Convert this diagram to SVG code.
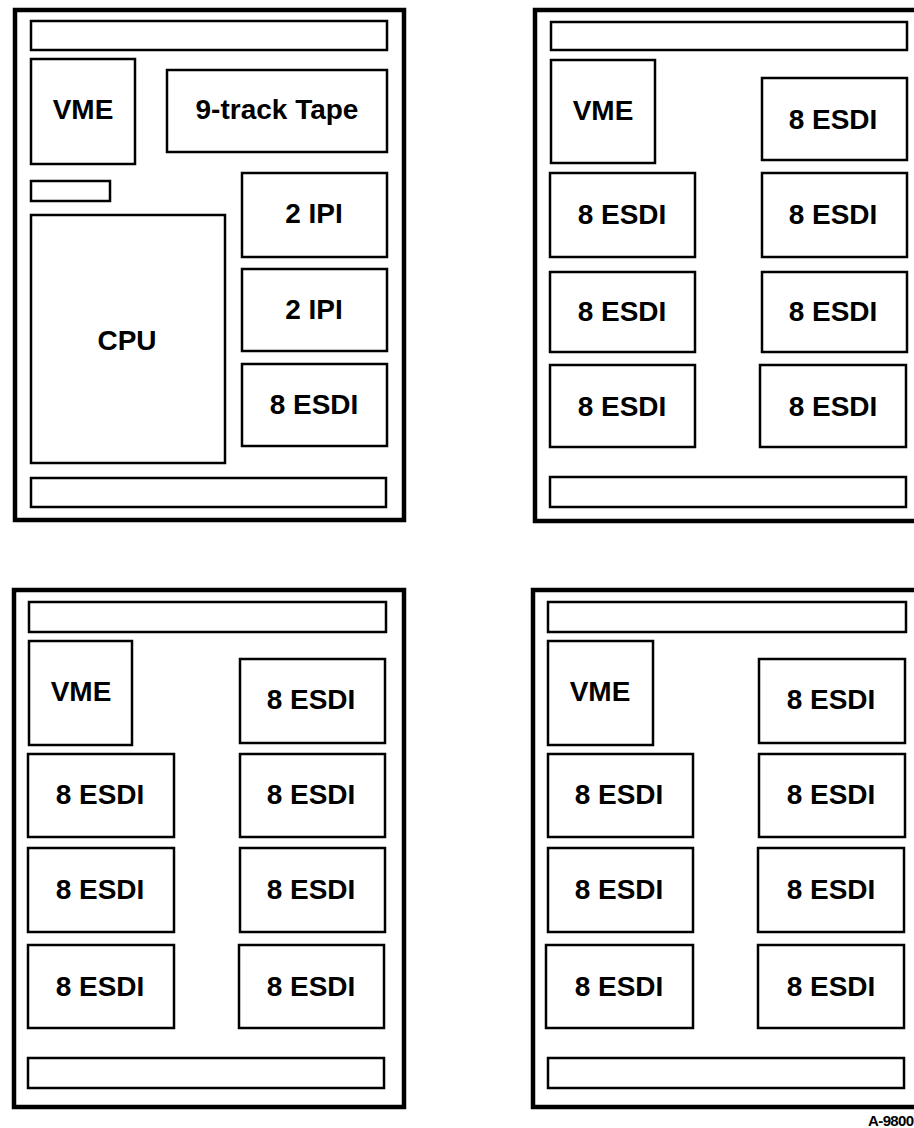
<svg xmlns="http://www.w3.org/2000/svg" width="914" height="1128" viewBox="0 0 914 1128">
<style>
.outer{fill:none;stroke:#000;stroke-width:4.5}
.box{fill:#fff;stroke:#000;stroke-width:2.5}
.lbl{font-family:"Liberation Sans",Arial,sans-serif;font-weight:bold;font-size:28px;fill:#000;text-anchor:middle}
.tag{font-family:"Liberation Sans",Arial,sans-serif;font-weight:bold;font-size:15px;letter-spacing:-0.6px;fill:#000}
</style>
<rect width="914" height="1128" fill="#fff"/>
<g id="connectors"></g>

<!-- Top-left chassis -->
<g id="chassis-tl">
<rect class="outer" x="15" y="10" width="389" height="510"/>
<rect class="box" x="31" y="21" width="356" height="29"/>
<rect class="box" x="31" y="181" width="79" height="20"/>
<rect class="box" x="31" y="478" width="355" height="29"/>
</g>
<g id="tl-vme"><rect class="box" x="31" y="59" width="104" height="105"/><text class="lbl" x="83" y="119">VME</text></g>
<g id="tl-tape"><rect class="box" x="167" y="70" width="220" height="82"/><text class="lbl" x="277" y="119">9-track Tape</text></g>
<g id="tl-cpu"><rect class="box" x="31" y="215" width="194" height="248"/><text class="lbl" x="127" y="350">CPU</text></g>
<g id="tl-ipi1"><rect class="box" x="242" y="173" width="145" height="84"/><text class="lbl" x="314" y="223">2 IPI</text></g>
<g id="tl-ipi2"><rect class="box" x="242" y="269" width="145" height="82"/><text class="lbl" x="314" y="319">2 IPI</text></g>
<g id="tl-esdi"><rect class="box" x="242" y="364" width="145" height="82"/><text class="lbl" x="314" y="414">8 ESDI</text></g>

<!-- Top-right chassis -->
<g id="chassis-tr">
<rect class="outer" x="535" y="10" width="390" height="511"/>
<rect class="box" x="551" y="22" width="356" height="28"/>
<rect class="box" x="550" y="477" width="356" height="30"/>
</g>
<g id="tr-vme"><rect class="box" x="551" y="60" width="104" height="103"/><text class="lbl" x="603" y="120">VME</text></g>
<g id="tr-e1"><rect class="box" x="762" y="78" width="145" height="82"/><text class="lbl" x="833" y="129">8 ESDI</text></g>
<g id="tr-e2"><rect class="box" x="550" y="173" width="145" height="84"/><text class="lbl" x="622" y="224">8 ESDI</text></g>
<g id="tr-e3"><rect class="box" x="762" y="173" width="145" height="84"/><text class="lbl" x="833" y="224">8 ESDI</text></g>
<g id="tr-e4"><rect class="box" x="550" y="272" width="145" height="80"/><text class="lbl" x="622" y="321">8 ESDI</text></g>
<g id="tr-e5"><rect class="box" x="762" y="272" width="145" height="80"/><text class="lbl" x="833" y="321">8 ESDI</text></g>
<g id="tr-e6"><rect class="box" x="550" y="365" width="145" height="82"/><text class="lbl" x="622" y="416">8 ESDI</text></g>
<g id="tr-e7"><rect class="box" x="760" y="365" width="146" height="82"/><text class="lbl" x="833" y="416">8 ESDI</text></g>

<!-- Bottom-left chassis -->
<g id="chassis-bl">
<rect class="outer" x="14" y="590" width="390" height="517"/>
<rect class="box" x="29" y="602" width="357" height="30"/>
<rect class="box" x="28" y="1058" width="356" height="30"/>
</g>
<g id="bl-vme"><rect class="box" x="29" y="641" width="103" height="104"/><text class="lbl" x="81" y="701">VME</text></g>
<g id="bl-e1"><rect class="box" x="240" y="659" width="145" height="84"/><text class="lbl" x="311" y="709">8 ESDI</text></g>
<g id="bl-e2"><rect class="box" x="28" y="754" width="146" height="83"/><text class="lbl" x="100" y="804">8 ESDI</text></g>
<g id="bl-e3"><rect class="box" x="240" y="754" width="145" height="83"/><text class="lbl" x="311" y="804">8 ESDI</text></g>
<g id="bl-e4"><rect class="box" x="28" y="848" width="146" height="84"/><text class="lbl" x="100" y="899">8 ESDI</text></g>
<g id="bl-e5"><rect class="box" x="240" y="848" width="145" height="84"/><text class="lbl" x="311" y="899">8 ESDI</text></g>
<g id="bl-e6"><rect class="box" x="28" y="945" width="146" height="83"/><text class="lbl" x="100" y="996">8 ESDI</text></g>
<g id="bl-e7"><rect class="box" x="239" y="945" width="145" height="83"/><text class="lbl" x="311" y="996">8 ESDI</text></g>

<!-- Bottom-right chassis -->
<g id="chassis-br">
<rect class="outer" x="533" y="590" width="392" height="517"/>
<rect class="box" x="548" y="602" width="358" height="30"/>
<rect class="box" x="548" y="1058" width="356" height="30"/>
</g>
<g id="br-vme"><rect class="box" x="548" y="641" width="105" height="104"/><text class="lbl" x="600" y="701">VME</text></g>
<g id="br-e1"><rect class="box" x="759" y="659" width="146" height="84"/><text class="lbl" x="831" y="709">8 ESDI</text></g>
<g id="br-e2"><rect class="box" x="548" y="754" width="145" height="83"/><text class="lbl" x="619" y="804">8 ESDI</text></g>
<g id="br-e3"><rect class="box" x="759" y="754" width="146" height="83"/><text class="lbl" x="831" y="804">8 ESDI</text></g>
<g id="br-e4"><rect class="box" x="548" y="848" width="145" height="84"/><text class="lbl" x="619" y="899">8 ESDI</text></g>
<g id="br-e5"><rect class="box" x="758" y="848" width="146" height="84"/><text class="lbl" x="831" y="899">8 ESDI</text></g>
<g id="br-e6"><rect class="box" x="546" y="945" width="147" height="83"/><text class="lbl" x="619" y="996">8 ESDI</text></g>
<g id="br-e7"><rect class="box" x="758" y="945" width="146" height="83"/><text class="lbl" x="831" y="996">8 ESDI</text></g>

<text class="tag" x="868" y="1126">A-9800</text>
</svg>
